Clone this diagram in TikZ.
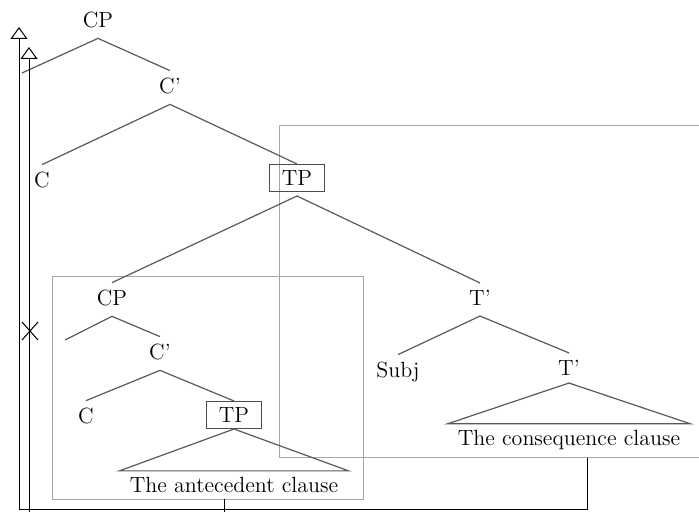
\documentclass[tikz,border=0pt]{standalone}
\usepackage{amsmath}
\usepackage{tikz}
\usetikzlibrary{arrows.meta}
\tikzset{
  font={\fontsize{11pt}{13}\selectfont}}

\begin{document}
\begin{tikzpicture}[x=0.5pt,y=0.5pt]
\tikzstyle{every node}+=[inner sep=3.5pt]
\tikzstyle{branch}=[draw=black!65,line width=0.6pt]
\tikzstyle{frame}=[draw=black!35,line width=0.5pt]
\tikzstyle{hbox}=[draw=black!70,line width=0.5pt,inner xsep=6pt,inner ysep=3pt]
\tikzstyle{roof}=[inner xsep=5pt,inner ysep=3pt]
\tikzstyle{move}=[draw=black,line width=0.5pt,-{Triangle[open,length=6pt,width=8.5pt]}]
\useasboundingbox (0,0) rectangle (699,-512);
\clip (0,0) rectangle (699,-512);
% boxes round the two clauses
\draw [frame] (52,-277) rectangle (363,-499);
\draw [frame] (699,-126) -- (279,-126) -- (279,-457) -- (699,-457);
% main clause
\node (cpA) at (98,-20) {CP};
\coordinate (specA) at (22,-73);
\node (cbarA) at (170,-86) {C'};
\node (cA) at (42,-180) {C};
\node [hbox] (tpA) at (297,-178) {TP};
\node (tbarA) at (480,-298) {T'};
\node (subj) at (398,-372) {Subj};
\node (tbarB) at (569,-368) {T'};
\node [roof] (conseq) at (569,-440) {The consequence clause};
% antecedent
\node (cpB) at (112,-298) {CP};
\coordinate (specB) at (65,-340);
\node (cbarB) at (160,-352) {C'};
\node (cB) at (86,-416) {C};
\node [hbox] (tpB) at (234,-415) {TP};
\node [roof] (ante) at (234,-485) {The antecedent clause};
% branches
\draw [branch] (specA) -- ([yshift=-1.5pt]cpA.south) -- (cbarA.north);
\draw [branch] (cA.north) -- ([yshift=-1.5pt]cbarA.south) -- (tpA.north);
\draw [branch] (cpB.north) -- ([yshift=-2pt]tpA.south) -- (tbarA.north);
\draw [branch] (subj.north) -- ([yshift=-1.5pt]tbarA.south) -- (tbarB.north);
\draw [branch] (tbarB.south) -- (conseq.north west) -- (conseq.north east) -- cycle;
\draw [branch] (specB) -- ([yshift=-1.5pt]cpB.south) -- (cbarB.north);
\draw [branch] (cB.north) -- ([yshift=-1.5pt]cbarB.south) -- (tpB.north);
\draw [branch] (tpB.south) -- (ante.north west) -- (ante.north east) -- cycle;
% movement
\coordinate (topA) at (19,-27);
\coordinate (topB) at (29,-47);
\draw [move] ([xshift=9pt,yshift=-1pt]conseq.south) -- ++(0,-51) -| (topA);
\draw [move] ([xshift=-5pt]ante.south) -- ++(0,-20) -| (topB);
\draw [black,line width=0.5pt] (22,-322) -- (38,-340) (38,-322) -- (22,-340);
\end{tikzpicture}
\end{document}
